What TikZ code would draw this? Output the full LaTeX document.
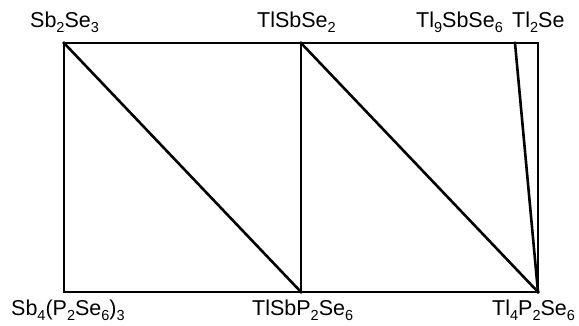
\documentclass[tikz,border=0pt]{standalone}
\usepackage{fontspec}
\setmainfont{Liberation Sans}
\newcommand\dn[1]{\raisebox{-5pt}{\fontsize{14.5}{14.5}\selectfont #1}}
\begin{document}
\begin{tikzpicture}[x=1pt,y=-1pt,
  edge/.style={line width=2.6pt,line cap=rect,line join=miter},
  lab/.style={anchor=base west,inner sep=0pt,font=\fontsize{21.5}{23}\selectfont}]
\useasboundingbox (0,0) rectangle (579,326);
% corners
\coordinate (TL) at (64,43);
\coordinate (TM) at (301,43);
\coordinate (TX) at (515,43);
\coordinate (TR) at (538,43);
\coordinate (BL) at (64,292);
\coordinate (BM) at (301,292);
\coordinate (BR) at (538,292);
% frame
\draw[edge] (TL) -- (TR) -- (BR) -- (BL) -- cycle;
\draw[edge] (TM) -- (BM);
% tie lines
\draw[edge] (TL) -- (BM);
\draw[edge] (TM) -- (BR);
\draw[edge] (TX) -- (BR);
% labels
\node[lab] (l1) at (30,28) {Sb\dn{2}Se\dn{3}};
\node[lab] (l2) at (257,28) {TlSbSe\dn{2}};
\node[lab] (l3) at (416,28) {Tl\dn{9}SbSe\dn{6}};
\node[lab] (l4) at (512,28) {Tl\dn{2}Se};
\node[lab] (l5) at (11,316) {Sb\dn{4}(P\dn{2}Se\dn{6})\dn{3}};
\node[lab] (l6) at (252,316) {TlSbP\dn{2}Se\dn{6}};
\node[lab] (l7) at (492,316) {Tl\dn{4}P\dn{2}Se\dn{6}};
\end{tikzpicture}
\end{document}
